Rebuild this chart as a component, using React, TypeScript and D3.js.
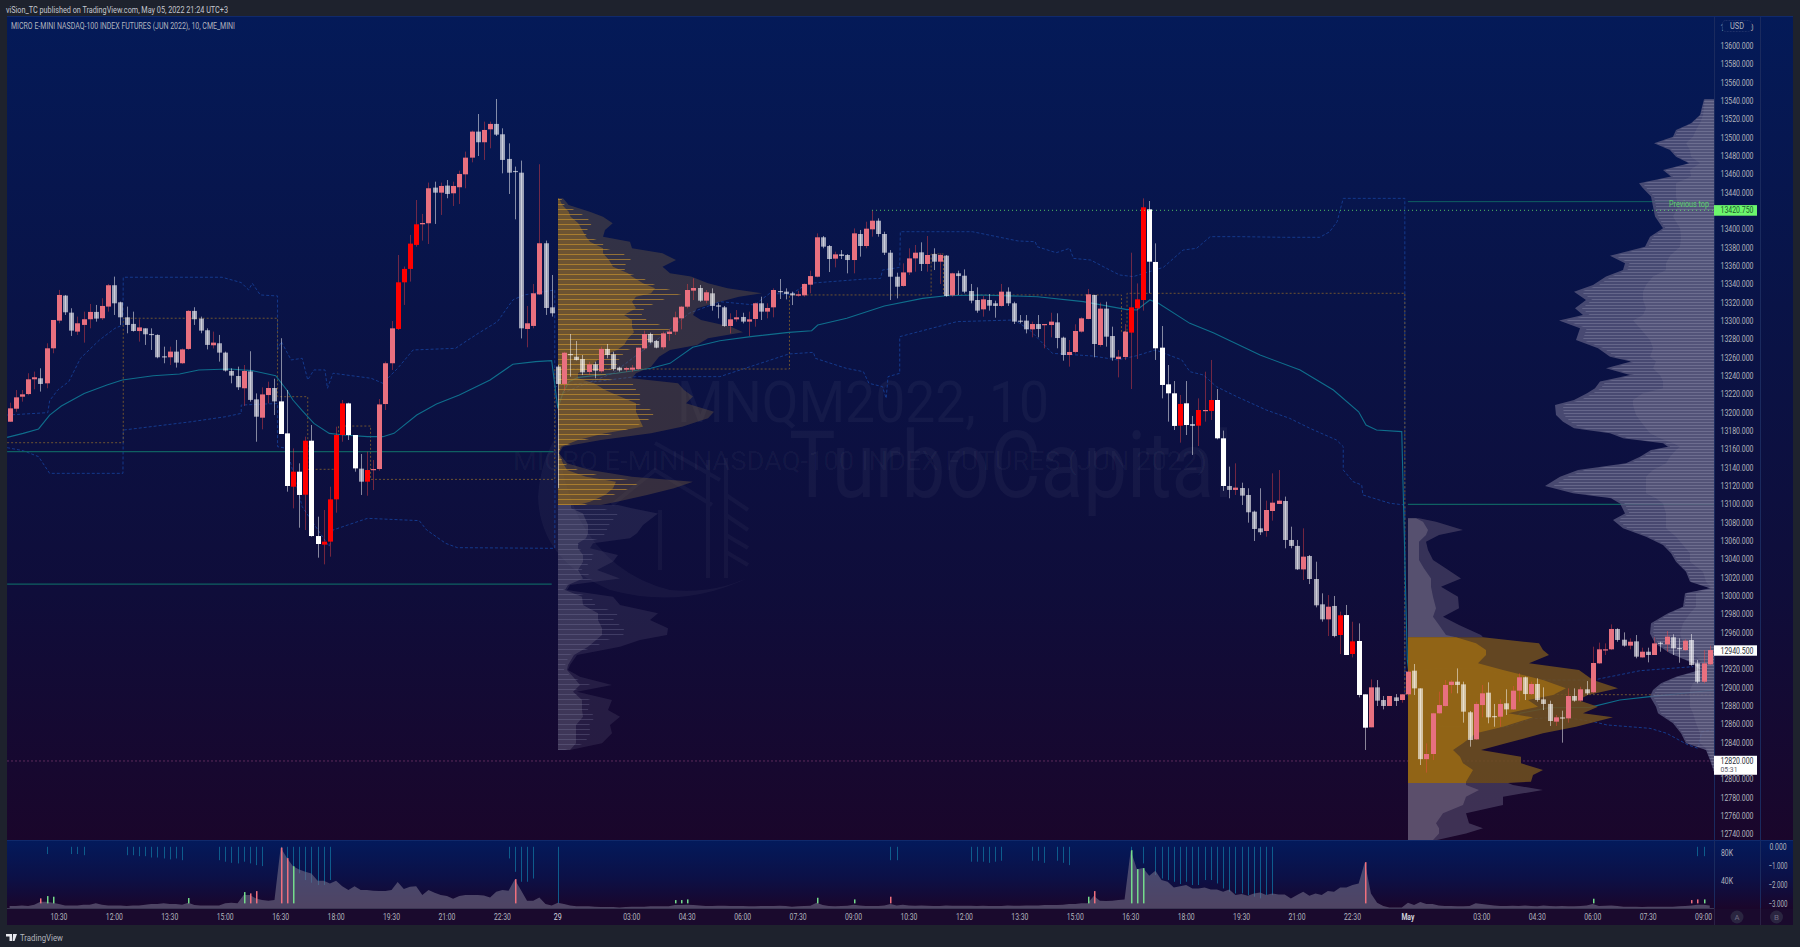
import React, { useEffect } from "react";
import * as d3 from "d3";

type N4 = [number, number, number, number];
type P2 = [number, number];
type P3 = [number, number, number];

// [open, high, low, close]
const candlesFirstDay: N4[] = [
[13190.1,13210.9,13190,13204.7],[13204.3,13224.7,13201,13216.7],[13217.4,13224.7,13212,13220],[13220.3,13243,13219,13236.4],[13236.4,13244.8,13225.5,13238.6],
[13237.5,13248.4,13223,13231.3],[13232,13275.7,13226.6,13270.2],[13270.2,13301.1,13264.8,13301.1],[13300.4,13333.9,13297.5,13328.4],[13327.7,13328.4,13306.6,13309.5],
[13309.1,13313.9,13283.7,13289.5],[13288.4,13304.8,13284.8,13297.5],[13295.7,13310.2,13276.4,13301.9],[13301.9,13318.6,13292,13309.9],[13309.9,13317.5,13299.3,13302.6],
[13303,13324.8,13301.1,13316.4],[13315.7,13340.4,13310.2,13339],[13339,13348.4,13306.6,13319.3],[13320.4,13321.1,13295.7,13304],[13304,13315.7,13286.6,13295.7],
[13296.8,13310.2,13288.4,13289.1],[13289,13301.9,13277.5,13293],[13292,13292,13273.9,13285.5],[13285.9,13292,13268.4,13285.2],[13284.8,13285.5,13259.3,13260.4],
[13261.5,13272,13253.9,13260.4],[13260.4,13272,13252,13266.6],[13266.6,13279.3,13249.2,13254.6],[13253.9,13270,13253,13269],[13269.5,13312,13268.4,13311],
[13311,13315,13295.7,13301.9],[13302.6,13304.8,13286.6,13289.5],[13289.9,13292,13269,13273.9],[13273.5,13288.4,13270,13276.4],[13275.7,13284.8,13255.7,13265.5],
[13265.5,13266.6,13244.8,13245.9],[13245.5,13248.4,13232,13240.4],[13240,13250.2,13224.8,13227.7],[13226.6,13252,13207.3,13245.5],[13245,13267,13212,13213.9],
[13214.5,13221,13168.3,13195.6],[13194.5,13227.6,13181.8,13219.9],[13219.2,13233.8,13210.1,13226.9],[13226.9,13237,13197.4,13212.3],[13212.3,13281.2,13176.7,13176.7],
[13177.4,13224.7,13113.8,13120],[13119.2,13161,13095.6,13135.6],[13135.6,13144.7,13074.5,13110.2],[13110.5,13173.8,13072,13169.4],[13169.4,13186.5,13064.7,13065.4],
[13065.4,13086.5,13041.8,13056.7],[13056,13093.8,13034.5,13059.3],[13059.3,13119.2,13042.9,13105.4],[13105.4,13184.7,13090.9,13175.6],[13175.6,13213.8,13168.3,13210.1],
[13210.1,13210.9,13170.2,13175.6],[13175.6,13175.6,13135.6,13139.2],[13138.9,13154.9,13110.2,13124.7],[13124.7,13157.4,13109.4,13137.4],[13137.4,13148.3,13115.6,13138.5],
[13138.5,13214.9,13136.7,13209],[13209.4,13255.7,13202.9,13253.9],[13253.9,13300,13246.6,13292],[13291.3,13372,13290.2,13342.2],[13342.2,13359.4,13317.5,13356.8],
[13356.8,13393.9,13343,13384.4],[13383,13432,13381.1,13405.5],[13405.5,13416.8,13387.7,13406.9],[13406.6,13451,13384,13444.8],[13445.5,13452,13405.9,13440],
[13440,13451,13415.7,13447.3],[13447.7,13453.8,13433.9,13438.6],[13439.3,13452,13425.5,13447.3],[13445.9,13464,13427.7,13460.4],[13460,13484.8,13444.8,13478.2],
[13478.2,13507.7,13473.1,13506.6],[13506.6,13525.8,13480,13495],[13495,13517.5,13475.7,13508.4],[13509.1,13517.5,13488.4,13515],[13515,13542.2,13501.8,13503.3],
[13503.7,13510.2,13461.1,13475.7],[13476.8,13493.8,13438.6,13461.8],[13463.7,13468.4,13410.9,13462.6],[13461.8,13475,13281,13292],[13291.3,13316.4,13271.3,13297.5],
[13294.6,13340.4,13292,13330.2],[13329,13471,13328.4,13384.8],[13384.8,13387.7,13306.6,13314.2],[13314.9,13350.2,13304.8,13308.4],
];
const candlesSecondDay: N4[] = [
[13250.2,13252,13117.5,13231.3],[13231.3,13266.5,13224,13265.4],[13264,13285.8,13239.3,13263],[13261,13278.2,13257,13257.4],[13258.5,13262.9,13241,13244],
[13244.4,13255.6,13241,13252.7],[13252.7,13255.6,13237.5,13245.8],[13245.1,13272,13243.6,13269.5],[13269.5,13274.9,13259.3,13262.9],[13263.6,13266.5,13245.8,13247.6],
[13249.1,13250.2,13244.7,13246.2],[13246.9,13250,13244.7,13248.7],[13246.9,13252,13244.7,13249.1],[13247.6,13270.9,13246.5,13270.9],[13270.2,13289.5,13268.4,13285.8],
[13285.8,13287.3,13275.6,13276.7],[13278.2,13279.3,13270.2,13270.9],[13271.3,13288.4,13269.1,13286.5],[13285.8,13290.9,13278.5,13288.4],[13288.4,13310.2,13284.7,13304],
[13302.9,13316.4,13290.9,13315.6],[13315.6,13340.4,13313.8,13333.8],[13333.1,13346.5,13322.9,13336],[13336,13339.3,13321,13322.2],[13322.2,13333.8,13319.3,13331.3],
[13330.2,13335.6,13311.3,13316.4],[13317.1,13319.3,13302.9,13315.6],[13314.9,13316.4,13293.8,13294.5],[13294.5,13308.4,13286.5,13301.8],[13301.8,13312,13299.3,13304],
[13304.4,13309,13297.4,13299.3],[13299.3,13310.2,13283.6,13301.8],[13302.2,13320,13293.8,13319.3],[13319.3,13326.5,13301.1,13310.2],[13310.2,13319.3,13302.9,13314.2],
[13314.9,13335.6,13304,13333.8],[13332.7,13345.8,13324,13332],[13332,13335.6,13323.6,13329.5],[13330.2,13332,13317.4,13328],[13327.6,13333,13326.5,13329.1],
[13328,13341,13326.5,13340.4],[13339.6,13354.9,13330.2,13349],[13348.3,13395.6,13347.6,13391.3],[13391.3,13392.7,13379.3,13381.1],[13381.8,13382.9,13353.4,13367.6],
[13368,13375.6,13358.5,13372.7],[13372.7,13377.4,13367.6,13370.9],[13372,13373,13352,13366.5],[13366.5,13401,13352,13395.6],[13394.9,13399.3,13370.2,13381.8],
[13381.8,13408.3,13379.3,13400.7],[13400,13420.3,13392,13409.4],[13409.4,13412,13392,13394.9],[13394.9,13397.4,13372,13374.5],[13374.5,13377.4,13322.9,13348.3],
[13348.3,13352.7,13324.7,13337.4],[13338.2,13362.9,13337.4,13353],[13353,13379.3,13350.2,13368.3],[13368.3,13382.9,13353.8,13374.5],[13374.9,13385.8,13354.5,13362.2],
[13362.2,13392.7,13353.8,13372],[13373,13379.3,13355.6,13364.7],[13364.7,13373.8,13340.4,13372],[13371.3,13372,13326.5,13327.3],[13328,13352.7,13326.5,13352],
[13352,13354.9,13328.4,13349],[13349.4,13356.3,13330.2,13332],[13332.7,13340.4,13319.3,13322.2],[13322.9,13336.7,13309,13311.3],[13312.7,13327.3,13304.7,13323.6],
[13322.9,13329.4,13311.3,13316.7],[13319.3,13322.2,13303.6,13316.4],[13316.4,13340.4,13315.6,13332],[13332,13336.7,13316.4,13319.3],[13319.3,13321,13296.7,13299.3],
[13300.4,13306.5,13297.4,13299.3],[13300.4,13306.5,13286.5,13290.9],[13290.9,13299.3,13282.2,13296.7],[13296.7,13306.5,13282.2,13291.3],[13295.6,13296.7,13270.2,13296.7],
[13295.6,13309,13282.2,13299.3],[13298.5,13308.4,13270.2,13281.4],[13281.8,13282.9,13256.7,13262.9],[13262.9,13279.3,13250.2,13266.2],[13266.2,13296.4,13264.7,13289.1],
[13288.4,13304,13287.3,13302.9],[13302.2,13334.9,13301.8,13329.1],[13328.4,13328.4,13260.4,13274.9],[13273.8,13320,13272,13313.5],[13313.5,13321,13272,13282.9],
[13283.6,13293.8,13256.7,13260],[13258.5,13268.4,13238.5,13261.1],[13260.7,13296.7,13257.4,13288.4],[13287.3,13374.5,13225.8,13314.9],[13313.8,13341,13258.5,13323.6],
[13322.9,13433.8,13311.3,13424],[13421.8,13430.9,13330.2,13364.7],[13364.4,13384.7,13257.5,13270.2],[13270.9,13294.5,13215.6,13230.2],[13230.9,13252,13190.2,13221.1],
[13221.1,13234.5,13181.1,13185.5],[13185.8,13219.3,13167.3,13209.5],[13210.2,13234.5,13175.6,13186.5],[13187.6,13196.4,13153.8,13185.5],[13185.8,13215.6,13163.6,13202.9],
[13202.2,13244.7,13190.2,13202.9],[13201.8,13257.5,13192,13213.8],[13213.8,13225.8,13170.9,13172],[13172,13180.4,13114.6,13120],[13120,13141.1,13106.6,13115.7],
[13115.7,13144.7,13110.2,13118.2],[13117.8,13123.6,13099.3,13109.5],[13110.2,13117.5,13080,13091.3],[13092,13093.1,13060,13073.1],[13073.8,13117.5,13066.6,13069.5],
[13070.9,13104,13064.7,13093.8],[13092.7,13133.8,13082.2,13101.8],[13100.4,13137.4,13100.4,13104],[13103.6,13108.4,13052,13061.1],[13061.1,13075.6,13052,13054.6],
[13054.6,13061.1,13028.4,13029.1],[13029,13073.8,13017.4,13042.9],[13043.6,13044.7,13013,13018.5],[13018.5,13037.4,12987.6,12989.8],[12990.9,13002.9,12972,12974.5],
[12974.5,13001,12956.3,12988.3],[12989.1,13000,12954.9,12956.3],[12957.4,12982.9,12936.7,12978.9],[12979.2,12990.2,12935.6,12935.6],[12936.7,12971.9,12933,12950.5],
[12950.9,12970.1,12889.4,12892],[12892.7,12892.7,12832,12856.3],[12856.7,12909,12856.7,12900.3],[12900.3,12908.3,12880,12885.8],[12886.5,12890.9,12876.3,12880],
[12880,12890.9,12880,12890.9],[12889.4,12893,12880,12885.4],[12886.5,12893,12883.6,12892.7],
];
const candlesThirdDay: N4[] = [
[12892.7,12918.5,12892,12917.4],[12918.5,12925.8,12892,12899.2],[12899.2,12899.2,12815.6,12822],[12822,12839.2,12807.3,12827.6],[12827.6,12872.7,12821,12872],
[12872,12895.6,12871.3,12881],[12880,12908.3,12879.3,12902.9],[12902.9,12908.3,12893.8,12906.5],[12906.5,12921,12893.8,12902.9],[12903.6,12906.5,12861.8,12873.8],
[12873.1,12874.5,12835.6,12842.9],[12843.6,12884.7,12842.9,12882.2],[12881,12902.9,12867.6,12893.8],[12894.5,12905.8,12861.1,12867.6],[12869,12882.2,12857.4,12868.3],
[12868.3,12887.3,12857.4,12882.2],[12882.9,12898.2,12870.2,12876.3],[12876.3,12901.8,12875.6,12896.7],[12896.7,12915.6,12884.7,12911.3],[12911.3,12912,12886.5,12893],
[12893,12906.5,12892,12904],[12904,12910.2,12884.7,12886.5],[12887.2,12900.3,12875.6,12882.2],[12882.2,12885.8,12858.2,12863.6],[12862.9,12870.2,12858.2,12867.6],
[12867.6,12874.9,12840,12866.2],[12866.5,12899.2,12861.8,12890.9],[12890.9,12899.2,12884.7,12885.8],[12885.8,12901,12884.7,12898.2],[12898.2,12907.2,12892,12893.8],
[12894.9,12944.7,12893.8,12926.9],[12926.5,12949.1,12925.8,12941.8],[12940.7,12948.3,12935.6,12941.8],[12941.8,12969,12941,12964],[12964,12964.7,12950.1,12952],
[12952.3,12960.3,12944.7,12945.8],[12945.8,12953.8,12941.8,12950.1],[12950.5,12957.4,12932,12933.8],[12933,12943.6,12932.7,12939.2],[12939.2,12943.6,12927.6,12935.6],
[12935.6,12954.9,12935.6,12948.3],[12949,12950.1,12939.2,12948.3],[12947.2,12961.8,12939.2,12955.6],[12954.9,12958.2,12935.6,12942.9],[12943.2,12953.8,12927.2,12942.5],
[12941,12952.7,12940.3,12951.2],[12952,12958.5,12924,12924.7],[12926.5,12930.2,12904.7,12906.5],[12906.5,12941,12904.7,12926.5],[12925.4,12945.8,12924.7,12941],
];
const redCandles = [46,48,51,52,53,54,58,63,64,65,66,182,183,184,190,193,195,216,218];
const whiteCandles = [44,45,47,49,50,55,56,185,186,187,188,189,191,196,197,217,219,220];

// volume in thousands, one per bar
const volumes = [
3.8,3.8,4.8,3.8,5.8,10,10,8.6,6.7,4.8, 4.8,4.8,5.8,5.8,7.7,5.8,4.8,4.8,4.8,3.8,
4.8,4.8,5.8,6.7,6.7,7.7,6.7,6.7,5.8,8.6, 5.3,4.8,4.8,4.8,4.8,7.7,8.6,7.7,19.7,19.7,
14.9,12.5,11.5,12.5,88.3,73.4,61.4,56.6,53.3,50.9, 40.3,40.3,36.5,40.3,32.6,26.9,32.6,26.9,26.9,25.9,
25.4,25.4,26.9,38.4,28.3,31.7,32.6,19.7,26.9,23, 19.7,18.2,14.4,18.2,19.7,19.7,19.7,19.2,16.3,24.5,
26.9,25.9,42.2,26.9,11.5,11.5,16.3,6.7,4.8,8.6, 6.7,4.8,3.4,3.4,3.4,2.9,2.4,2.4,2.4,1.9,
2.4,2.9,2.9,2.9,3.4,3.4,3.4,3.4,5.3,5.3, 5.8,5.3,4.8,3.8,3.8,4.3,4.3,3.8,3.8,3.8,
3.4,3.4,3.8,3.8,3.8,4.3,3.8,2.9,3.4,3.8, 4.3,8.6,5.3,3.8,3.4,3.8,4.3,5.8,4.8,3.8,
3.8,3.8,4.8,6.7,4.8,5.8,4.8,4.3,4.8,4.3, 3.8,3.8,4.8,4.3,4.3,4.3,4.3,3.8,4.3,3.8,
3.8,3.8,4.8,4.3,4.3,4.8,4.8,4.8,5.3,5.3, 5.3,5.8,6.7,6.7,7.7,7.7,18.2,11.5,11,11.5,
12.5,13.4,84.5,57.1,58.6,47.5,54.7,41.3,38.9,30.7, 32.6,34.1,29.3,29.3,30.7,27.8,27.8,24.5,27.8,19.7,
21.1,18.7,22.1,23.5,19.7,22.1,20.6,20.6,14.9,19.7, 24.5,18.7,22.1,19.7,25.4,24.5,30.7,30.7,34.1,36.5,
67.2,22.1,8.6,3.8,1.9,1.9,1.9,8.6,5.3,9.6, 6.7,6.7,4.8,3.8,3.8,3.4,3.4,3.8,7.7,6.7,
5.8,4.8,3.8,3.8,4.3,3.8,4.8,3.8,3.4,4.8, 3.8,3.4,3.8,3.4,3.4,3.8,4.8,6.7,3.8,4.3,
4.8,3.8,2.9,2.9,2.9,2.4,2.9,2.9,2.9,2.9, 2.9,3.4,3.8,4.8,5.8,5.8,4.8,
];
// [bar, value in thousands]
const greenSpikes: P2[] = [[6,18.2],[7,17.3],[29,15.4],[38,24],[46,61.4],[108,12.5],[109,12.5],[110,13.4],[131,15.8],[137,13.4],[175,17.3],[182,84.5],[183,57.1],[184,58.6],[257,14.4],[275,13.4]];
const redSpikes: P2[] = [[5,14.9],[39,22.1],[40,25.4],[44,88.3],[45,73],[82,42.7],[143,17.3],[176,25.4],[220,67.2],[273,12.5],[274,13.4]];
const spikeBaseK = 7.7;
// [bar, oscillator value], drawn hanging from zero
const hangingBars: P2[] = [
[6,-.38],[10,-.38],[11,-.38],[12,-.44],[19,-.44],[20,-.44],[21,-.49],[22,-.49],[23,-.56],[24,-.56],[25,-.61],[26,-.66],[27,-.61],[28,-.7],
[34,-.7],[35,-.78],[36,-.84],[37,-.87],[38,-.78],[39,-.87],[40,-.96],[41,-1.01],[44,-1],[45,-1.31],[46,-1.13],[47,-1.39],[48,-1.74],[49,-1.88],[50,-2],[51,-2],[52,-1.74],
[81,-.61],[82,-1.31],[83,-1.83],[84,-1.83],[85,-1.66],[89,-2.96],[143,-.7],[144,-.7],
[156,-.78],[157,-.78],[158,-.78],[159,-.84],[160,-.78],[161,-.73],[166,-.73],[167,-.73],[168,-.84],[170,-.73],[171,-.84],[172,-.96],
[182,-.17],[184,-.87],[186,-1.48],[187,-1.66],[188,-1.74],[189,-1.83],[190,-1.95],[191,-1.83],[192,-2],[193,-2],[194,-1.74],[195,-1.74],[196,-1.92],[197,-2.18],[198,-2.35],[199,-2.44],[200,-2.44],[201,-2.53],[202,-2.61],[203,-2.7],[204,-2.53],[205,-2.53],
[274,-.49],[275,-.49],
];

// [bar, price] lines
const vwapLine: P2[] = [[-.4,13173],[2.2,13177.4],[4.7,13182.2],[6.5,13197.4],[8.4,13207.2],[12.1,13221],[15.8,13230.1],[18.3,13235.6],[23.3,13240.3],[27.6,13242.1],[30.7,13246.5],[35.7,13247.6],[39.4,13245.8],[43.2,13240.3],[45,13224.7],[46,13213.8],[47.5,13202.1],[49.4,13188.3],[51.9,13177.4],[54.3,13175.6],[58.1,13173.8],[60.6,13173.8],[62.4,13177.4],[66.1,13197.4],[69.3,13209.4],[73,13219.2],[78,13235.6],[81.7,13252.8],[85.4,13255.7],[88,13256.8],
[89,13204.7],[89.8,13221.1],[90.8,13233.8],[92.3,13238.5],[98.5,13242.9],[104.1,13248.4],[107.2,13253.8],[110.9,13271.3],[115.3,13278.5],[120.3,13282.9],[126.5,13287.6],[130.2,13289.4],[131.2,13295.6],[135.9,13302.9],[142,13316.4],[148.2,13324.7],[152,13327.6],[157.6,13328.4],[166.9,13326.5],[174.3,13321.1],[181.2,13312.7],[183,13312],[185.1,13322.9],[186.5,13319.3],[191.6,13297.4],[195.4,13287.3],[203,13262.9],[209.5,13246.5],[214.9,13224.7],[219,13201],[220.2,13186.5],[221.9,13181.1],[226,13179.3],
[226.9,12930],[227.3,12908.3],[229,12879.3],[232.2,12857.4],[243,12858.2],[245.2,12872],[250,12878.2],[256.5,12878.5],[261.4,12886.5],[266.3,12890.2],[271.7,12893.8],[276.6,12897.4]];
const upperBand: P2[] = [[-.4,13197.4],[6.2,13200],[6.5,13213],[7.8,13224.7],[9.6,13233.8],[11.5,13259.3],[14.6,13279.3],[17.1,13292],[18.4,13295.7],[18.45,13347.7],[34.5,13347.7],[37.6,13341.9],[38.8,13333.9],[39.4,13341.1],[40.7,13328.4],[43.5,13327.3],[43.5,13268.4],[44.1,13277.5],[45.7,13257.5],[47.5,13259.3],[48.4,13235.7],[49.4,13246.6],[51.2,13246.6],[51.6,13226.6],[52.5,13243],[58.7,13237.5],[60.6,13232],[63,13248.4],[65.5,13268.4],[72.4,13270.2],[73.6,13275.7],[76.1,13286.6],[79.2,13299.3],[81.7,13323],[83.5,13328.4],[88.5,13333.9],
[88.5,13217.5],[92.3,13228.4],[97.9,13242.9],[104.7,13277.5],[110.3,13308.4],[115.3,13321.1],[120.9,13317.5],[123.4,13330.2],[126.8,13329],[129.6,13341],[138.9,13345.8],[141.4,13346.5],[141.7,13355.6],[144.5,13358.5],[144.6,13397.4],[156.3,13397.4],[163.7,13387.3],[166.5,13386.5],[166.8,13381.1],[169.9,13374.5],[172.1,13379.3],[172.7,13368.3],[175.5,13366.5],[178.6,13355.6],[180.2,13350.2],[182.4,13348.4],[187.3,13358.5],[190.5,13377.4],[192.7,13379.3],[194.9,13392],[199.7,13392],[206.8,13391.3],[212.7,13391.3],[214.3,13397.4],[215.5,13408.3],[216.5,13433.8],[226.5,13433.8],
[226.5,12917.4],[232,12921],[239.3,12921],[243,12912],[249.5,12908.3],[257.1,12908.3],[264.7,12918.5],[273.3,12922.9]];
const lowerBand: P2[] = [[-.4,13161.8],[2.2,13158.5],[4.7,13152],[6.5,13133.8],[18.4,13133.8],[18.45,13181],[29.5,13190.1],[35.1,13195.6],[37.6,13199.2],[37.6,13208.3],[43.5,13210],[43.5,13162.9],[45,13161],[47.5,13097.4],[51.9,13053.8],[52.5,13072],[58.1,13084.7],[66.5,13082.2],[67.7,13072],[70.8,13057.4],[72.7,13052.7],[88.5,13052],
[88.6,13228.4],[101.6,13239.3],[115.3,13239.3],[126.5,13264],[130.5,13265.8],[130.8,13259.3],[135.8,13248.4],[138.6,13244.7],[139.5,13232],[141.7,13228.4],[142.3,13215.6],[142.6,13239.3],[144.5,13242.9],[144.5,13282.9],[153.8,13299.3],[163.1,13301.1],[165.6,13290.2],[169.3,13264.7],[175.8,13261.8],[179.9,13257.5],[183,13262.2],[186,13268.4],[190.3,13257.5],[191.6,13244.7],[193.8,13241.1],[195.9,13228.4],[199.2,13217.5],[204,13202.9],[207.8,13193.8],[211.1,13182.9],[215.4,13170.2],[216.5,13162.9],[216.5,13137.5],[218.1,13124.7],[219.5,13121.1],[219.7,13110.2],[224.1,13101.1],[226.5,13099.3],
[226.5,12893.8],[232.8,12857.4],[243,12857],[247,12866],[252,12868],[257.1,12862.9],[259.3,12859.3],[266.3,12855.6],[269,12850.2],[272.5,12837.4],[274.1,12833.8],[274.7,12852],[276.6,12853.8]];
const pocLine: P2[] = [[-.4,13167.2],[18.45,13167.2],[18.45,13303],[43.5,13303],[43.5,13217.4],[48.4,13217.4],[48.4,13138.2],[53.4,13138.2],[53.4,13185.4],[58.6,13185.4],[58.6,13127.2],[88.5,13127.2],
[88.5,13247.6],[126.6,13247.6],[126.6,13328.4],[149.6,13328.4],[149.6,13373.1],[151.6,13373.1],[151.6,13328.4],[180.5,13328.4],[180.5,13288.4],[181.4,13288.4],[181.4,13330.2],[226.5,13330.2],[226.5,12893],[276.6,12892]];
// [from bar, to bar, price]
const tealLevels: P3[] = [[-.4,88.3,13157.4],[-.4,88,13013],[227,277,13100],[227,277,13430.2]];
const previousTop = 13420.75;
const previousTopBar = 140;
const lastPrice = 12940.5;
const countdownPrice = 12820;

// [price, total width, inner width]
const profile1Orange: P3[] = [[13433.8,5,1],[13426.5,10.7,4.2],[13419.3,31.8,10.7],[13413.8,45,12.6],[13406.5,54.7,20.3],[13399.3,47,24.1],[13392,45,28],[13386.5,72,32],[13379.3,74,45],[13373.8,104.5,45],[13366.5,118,51],[13359.3,104.5,55],[13352,112,70],[13348.4,133,74],[13341.1,150,85],[13335.6,169.5,97],[13330.2,204,93],[13326.5,181,78],[13321,162,74],[13313.8,139,78],[13306.5,135,66],[13301.1,143,74],[13293.8,173,74],[13287.6,185,76],[13281.1,150,70],[13273.8,139,66],[13268.4,112,59],[13261.1,101,43],[13250.2,93,32],[13242.9,78,20],[13237.5,74,20],[13232,120,36],[13224.7,126,47],[13217.5,135,62],[13210.2,128,78],[13201.1,156,78],[13193.8,150,81],[13184.7,124,85],[13177.4,93,47],[13170.2,43,20],[13162.9,5,3],[13155.6,1,.5],[13144.7,9,5],[13137.5,32,9],[13130.2,74,28],[13124.7,135,58],[13117.5,116,55],[13110.2,89,47],[13102.9,59,32],[13099.3,43,20]];
const profile1Gray: P3[] = [[13099.3,60,13],[13095.7,74,13],[13090.1,100,25],[13077.4,85,30],[13068.3,79,30],[13062.9,72,28],[13057.4,35,20],[13052,32,20],[13044.7,60,25],[13037.4,55,25],[13028.3,39,20],[13019.2,62,25],[13012,12,10],[13006.5,9,7],[12999.2,55,24],[12990.1,62,25],[12981.1,100,40],[12973.8,92,40],[12964.7,110,44],[12957.4,109,44],[12952,82,38],[12944.7,62,30],[12935.6,19,16],[12924.7,12,10],[12919.2,10,9],[12912,22,15],[12902.9,54,22],[12895.6,19,15],[12886.5,54,24],[12875.6,50,24],[12868.3,62,25],[12859.3,52,18],[12850.2,54,18],[12839.2,44,18],[12832,12,12]];
const profile2Top: P3[] = [[13084.7,11,8],[13081,28,15],[13072,55,20],[13066.5,31,18],[13059.2,18,11],[13050.1,20,11],[13039.2,25,11],[13030.1,38,16],[13019.2,53,23],[13010.1,33,23],[12999.2,50,25],[12986.5,51,28],[12977.4,35,25],[12968.3,51,31],[12957.4,73,38],[12955,75,48]];
const profile2Orange: P3[] = [[12955,75,48],[12948.3,131,68],[12941,135,78],[12935.6,141,78],[12926.5,121,70],[12919.2,171,95],[12908.3,185,135],[12899.2,210,158],[12891.9,180,145],[12886.5,170,120],[12879.2,190,130],[12872,175,100],[12867.6,205,125],[12857.4,168,95],[12850.2,135,68],[12839.3,98,55],[12832,73,45],[12824.7,113,52],[12817.4,113,55],[12810.2,135,65],[12804.7,125,62],[12797.4,123,58],[12796,100,58]];
const profile2Bottom: P3[] = [[12796,100,58],[12793.8,105,58],[12788.4,135,71],[12781,95,58],[12772,95,55],[12762.9,58,35],[12752,61,28],[12746.5,75,31],[12741,58,31],[12733.8,29,25]];
const profile3: P3[] = [[13541.8,10,9],[13524.8,14,11],[13515.7,23,14],[13508.4,38,18],[13501.1,41,21],[13493.8,60,28],[13486.6,44,24],[13479.3,38,23],[13472,25,14],[13464.8,51,24],[13457.5,43,23],[13450.2,75,38],[13444.8,71,38],[13435.7,63,38],[13424.8,61,36],[13413.9,59,41],[13401.1,51,34],[13392,64,33],[13381.1,69,34],[13371.3,104,44],[13363,89,48],[13355.7,91,48],[13348.4,108,61],[13339.3,121,68],[13332,140,71],[13323,128,71],[13313.9,139,68],[13306.6,131,71],[13300.4,155,81],[13292,134,74],[13279.3,138,64],[13270.2,116,61],[13261.1,104,64],[13255.7,83,58],[13248.4,108,61],[13241.1,84,54],[13233.9,114,51],[13226.6,119,51],[13221.1,127,71],[13213.9,140,81],[13208.4,159,81],[13197.5,158,78],[13190.2,151,73],[13182.9,140,68],[13177.5,104,64],[13172,91,54],[13166.6,51,41],[13162.9,46,34],[13159.3,63,38],[13152,74,44],[13144.8,88,48],[13137.5,136,61],[13130.2,154,68],[13120.1,169,68],[13112.1,141,68],[13106.6,103,58],[13101,94,51],[13090.1,89,48],[13082.9,101,48],[13073.8,91,48],[13064.7,68,38],[13055.6,51,31],[13046.5,43,24],[13037.4,38,24],[13026.5,28,11],[13015.6,24,8],[13008.3,4,2],[13002.9,29,18],[12988.3,31,18],[12981.1,46,24],[12970.2,63,31],[12959.2,64,34],[12948.3,59,31],[12937.4,44,21],[12926.5,21,11],[12919.2,14,6],[12912,38,14],[12904.7,53,21],[12897.4,61,24],[12890.2,64,24],[12879.2,58,24],[12872,56,21],[12861.1,41,18],[12850.2,33,14],[12839.3,28,14],[12832,8,6],[12821,4,2],[12808.3,0,0]];

const priceTicks = d3.range(13620, 12739, -20);
const volumeTicks = [40, 80];
const oscTicks = [0, -1, -2, -3];
const timeTickBars = [8,17,26,35,44,53,62,71,80,89,101,110,119,128,137,146,155,164,173,182,191,200,209,218,227,239,248,257,266,275];
const timeTickLabels = ["10:30","12:00","13:30","15:00","16:30","18:00","19:30","21:00","22:30","29","03:00","04:30","06:00","07:30","09:00","10:30","12:00","13:30","15:00","16:30","18:00","19:30","21:00","22:30","May","03:00","04:30","06:00","07:30","09:00"];

const headerText = "viSion_TC published on TradingView.com, May 05, 2022 21:24 UTC+3";
const titleText = "MICRO E-MINI NASDAQ-100 INDEX FUTURES (JUN 2022), 10, CME_MINI";

const candles: N4[] = [...candlesFirstDay, ...candlesSecondDay, ...candlesThirdDay];

const W = 1800, H = 947;
const PL = 7, PR = 1714, PT = 16, PB = 840, SB = 908, TB = 925, AX2 = 1760, RE = 1793;
const F = "Roboto, 'Liberation Sans', sans-serif";

const xs = d3.scaleLinear().domain([0, 276]).range([9.6, 9.6 + 276 * 6.16]);
const ys = d3.scaleLinear().domain([13600, 12740]).range([46, 834.3]);
const volY = d3.scaleLinear().domain([0, 80]).range([908.7, 853.3]);
const oscY = d3.scaleLinear().domain([0, -3]).range([846.8, 904.1]);

const pathLine = d3.line<P2>().x((d) => xs(d[0])).y((d) => ys(d[1]));
const volArea = d3.area<number>().x((_, i) => xs(i)).y0(volY(0)).y1((d) => volY(d));

function profilePath(rows: P3[], anchor: number, dir: number, which: number, scale = 1) {
  return d3.area<P3>()
    .y((d) => ys(d[0]))
    .x0(anchor)
    .x1((d) => anchor + dir * d[which] * scale)(rows) as string;
}

function Profile({ rows, anchor, dir, outer, inner, stripe, reach = 0.8 }: { rows: P3[]; anchor: number; dir: number; outer: string; inner: string; stripe?: string; reach?: number }) {
  return (
    <g>
      <path d={profilePath(rows, anchor, dir, 1)} fill={outer} />
      <path d={profilePath(rows, anchor, dir, 2)} fill={inner} />
      {stripe ? <path d={profilePath(rows, anchor, dir, 1, reach)} fill={`url(#${stripe})`} /> : null}
    </g>
  );
}

const Stripe = ({ id, color, h = 8 }: { id: string; color: string; h?: number }) => (
  <pattern id={id} patternUnits="userSpaceOnUse" width={8} height={h}>
    <rect x={0} y={h - 1} width={8} height={1} fill={color} />
  </pattern>
);

function Candle({ d, i }: { d: N4; i: number }) {
  const [o, h, l, c] = d;
  const up = c >= o;
  const isRed = redCandles.includes(i);
  const isWhite = whiteCandles.includes(i);
  const x = Math.round(xs(i));
  const body = isRed ? "#ff0000" : isWhite ? "#ffffff" : up ? "#e8707f" : "rgba(255,255,255,0.6)";
  const wick = up ? "rgba(255,70,70,0.42)" : "rgba(255,255,255,0.5)";
  const top = ys(Math.max(o, c));
  const bot = ys(Math.min(o, c));
  return (
    <g>
      <rect x={x} y={ys(h)} width={1} height={Math.max(0, ys(l) - ys(h))} fill={wick} />
      <rect x={x - 2} y={top} width={5} height={Math.max(1.2, bot - top)} fill={body} />
    </g>
  );
}

const Fit = ({ x, y, w, size = 9, fill = "#b2b5be", anchor = "middle", children, weight }: any) => (
  <text x={x} y={y} fontSize={size} fontFamily={F} fill={fill} textAnchor={anchor} textLength={w} lengthAdjust="spacingAndGlyphs" dominantBaseline="central" fontWeight={weight}>
    {children}
  </text>
);

export default function App() {
  useEffect(() => {
    document.body.style.margin = "0";
    document.body.style.overflow = "hidden";
  }, []);
  const tagX = PR, tagW = 43;
  return (
    <svg width={W} height={H} viewBox={`0 0 ${W} ${H}`} style={{ position: "absolute", left: 0, top: 0, display: "block" }}>
      <defs>
        <linearGradient id="mainBg" x1="0" y1="0" x2="0" y2="1">
          <stop offset="0" stopColor="#041a58" />
          <stop offset="0.35" stopColor="#091347" />
          <stop offset="0.7" stopColor="#0f0d3a" />
          <stop offset="1" stopColor="#1a062b" />
        </linearGradient>
        <linearGradient id="subBg" x1="0" y1="0" x2="0" y2="1">
          <stop offset="0" stopColor="#031a5c" />
          <stop offset="0.45" stopColor="#0c1046" />
          <stop offset="0.8" stopColor="#1a062b" />
          <stop offset="1" stopColor="#1a062b" />
        </linearGradient>
        <clipPath id="mainClip"><rect x={PL} y={PT} width={PR - PL} height={PB - PT} /></clipPath>
        <clipPath id="subClip"><rect x={PL} y={PB} width={PR - PL} height={SB - PB + 1} /></clipPath>
        <Stripe id="stOrange" color="rgba(205,150,45,0.62)" h={5} />
        <Stripe id="stGray" color="rgba(130,130,165,0.3)" h={5} />
        <Stripe id="stGray2" color="rgba(175,175,200,0.28)" h={3} />
      </defs>
      <rect width={W} height={H} fill="#1e222d" />
      <rect x={PL} y={PT} width={RE - PL} height={PB - PT} fill="url(#mainBg)" />
      <rect x={PL} y={PB} width={RE - PL} height={TB - PB} fill="url(#subBg)" />

      {/* watermark */}
      <g fill="#ffffff" fillOpacity={0.04} fontFamily={F}>
        <text x={863} y={422} fontSize={58} textAnchor="middle" textLength={372} lengthAdjust="spacingAndGlyphs">MNQM2022, 10</text>
        <text x={860} y={470} fontSize={26} textAnchor="middle" textLength={694} lengthAdjust="spacingAndGlyphs">MICRO E-MINI NASDAQ-100 INDEX FUTURES (JUN 2022)</text>
        <text x={1011} y={497} fontSize={92} textAnchor="middle" textLength={444} lengthAdjust="spacingAndGlyphs">TurboCapital</text>
        <path d="M763,570 Q690,612 610,590 Q540,560 538,497 Q540,460 560,430 Q556,470 580,520 Q610,575 670,590 Q720,595 763,570 Z" />
      </g>
      <g stroke="#ffffff" strokeOpacity={0.035} strokeWidth={4} fill="none">
        <path d="M655,443 L720,480 M612,505 L655,470 L712,505 M660,510 V570 M708,460 V578 M726,458 V578 M726,495 L748,510 M726,515 L748,530 M726,535 L748,548 M726,552 L748,565" />
      </g>

      {/* overlays, beneath the profiles */}
      <g clipPath="url(#mainClip)" fill="none">
        <path d={pathLine(lowerBand) as string} stroke="#14398c" strokeWidth={1} strokeDasharray="3 2" />
        <path d={pathLine(upperBand) as string} stroke="#14398c" strokeWidth={1} strokeDasharray="3 2" />
        <path d={pathLine(pocLine) as string} stroke="#6d5331" strokeWidth={1} strokeDasharray="2 2" />
        {tealLevels.map((l, i) => (
          <line key={i} x1={xs(l[0])} x2={xs(l[1])} y1={ys(l[2])} y2={ys(l[2])} stroke="#0f6062" strokeWidth={i === 3 ? 1 : 1.3} />
        ))}
        <path d={pathLine(vwapLine) as string} stroke="#0f6e8c" strokeWidth={1.1} />
        <line x1={PL} x2={PR} y1={ys(countdownPrice)} y2={ys(countdownPrice)} stroke="#5d2c5c" strokeWidth={1} strokeDasharray="2 2" />
      </g>

      {/* profiles */}
      <g clipPath="url(#mainClip)">
        <Profile rows={profile1Orange} anchor={558} dir={1} outer="rgba(120,98,62,0.38)" inner="rgba(150,108,36,0.58)" stripe="stOrange" reach={0.62} />
        <Profile rows={profile1Gray} anchor={558} dir={1} outer="rgba(110,105,135,0.2)" inner="rgba(120,115,140,0.3)" stripe="stGray" reach={0.6} />
        <Profile rows={profile2Top} anchor={1408} dir={1} outer="rgba(70,65,100,0.72)" inner="rgba(92,86,115,0.85)" />
        <Profile rows={profile2Orange} anchor={1408} dir={1} outer="rgba(110,78,32,0.88)" inner="rgba(148,102,22,0.95)" />
        <Profile rows={profile2Bottom} anchor={1408} dir={1} outer="rgba(76,66,100,0.72)" inner="rgba(96,84,112,0.85)" />
        <Profile rows={profile3} anchor={PR} dir={-1} outer="rgba(88,88,125,0.8)" inner="rgba(110,110,140,0.28)" stripe="stGray2" reach={0.95} />
      </g>

      {/* candles */}
      <g clipPath="url(#mainClip)">
        {candles.map((d, i) => <Candle key={i} d={d} i={i} />)}
        <line x1={xs(previousTopBar)} x2={PR} y1={ys(previousTop)} y2={ys(previousTop)} stroke="#6cf76c" strokeOpacity={0.75} strokeWidth={1} strokeDasharray="1 3" />
      </g>
      <Fit x={1689} y={204} w={40} size={8.5} fill="#58d46a">Previous top</Fit>

      {/* sub pane */}
      <g clipPath="url(#subClip)">
        {hangingBars.map((d, i) => (
          <rect key={i} x={Math.round(xs(d[0]))} y={oscY(0)} width={1} height={oscY(d[1]) - oscY(0)} fill="#0e5c8c" />
        ))}
        <path d={volArea(volumes) as string} fill="#6f6a86" fillOpacity={0.62} />
        <rect x={PL} y={SB} width={PR - PL} height={1.5} fill="#3c3754" />
        {redSpikes.map((d, i) => (
          <rect key={i} x={Math.round(xs(d[0]))} y={volY(d[1])} width={1.5} height={volY(spikeBaseK) - volY(d[1])} fill="#f0707e" />
        ))}
        {greenSpikes.map((d, i) => (
          <rect key={i} x={Math.round(xs(d[0]))} y={volY(d[1])} width={1.5} height={volY(spikeBaseK) - volY(d[1])} fill="#74dc8c" />
        ))}
      </g>

      {/* frames */}
      <g stroke="#1a2a5e" strokeWidth={1} fill="none">
        <line x1={PR + 0.5} x2={PR + 0.5} y1={PT} y2={TB} />
        <line x1={AX2 + 0.5} x2={AX2 + 0.5} y1={PT} y2={TB} />
        <line x1={PL} x2={RE} y1={PB + 0.5} y2={PB + 0.5} stroke="#10296b" />
        <line x1={PL} x2={RE} y1={PT + 0.5} y2={PT + 0.5} stroke="#10296b" />
      </g>
      <rect x={PL} y={SB + 1} width={RE - PL} height={TB - SB - 1} fill="#1a0a2d" />
      <line x1={PR + 0.5} x2={PR + 0.5} y1={SB} y2={TB} stroke="#2a2145" />
      <line x1={AX2 + 0.5} x2={AX2 + 0.5} y1={SB} y2={TB} stroke="#2a2145" />

      {/* price axis */}
      {priceTicks.map((t) => (
        <Fit key={t} x={1737} y={ys(t)} w={33}>{d3.format(".3f")(t)}</Fit>
      ))}
      <rect x={1722.5} y={20.5} width={29} height={11} rx={3} fill="#041a58" stroke="#1d2f68" strokeDasharray="2 1" />
      <Fit x={1737} y={26} w={14}>USD</Fit>

      {/* tags */}
      <rect x={tagX} y={ys(previousTop) - 5.2} width={tagW} height={10.6} fill="#6cf76c" />
      <Fit x={1737} y={ys(previousTop)} w={33} fill="#1b5a2c">{d3.format(".3f")(previousTop)}</Fit>
      <rect x={tagX} y={ys(lastPrice) - 5.2} width={tagW} height={10.4} fill="#ffffff" />
      <Fit x={1737} y={ys(lastPrice)} w={33} fill="#2a2e39">{d3.format(".3f")(lastPrice)}</Fit>
      <rect x={tagX} y={ys(countdownPrice) - 5.2} width={tagW} height={19} fill="#ffffff" />
      <Fit x={1737} y={ys(countdownPrice)} w={33} fill="#2a2e39">{d3.format(".3f")(countdownPrice)}</Fit>
      <Fit x={1729} y={ys(countdownPrice) + 9} w={17} size={8} fill="#5d606b">05:31</Fit>

      {/* sub axes */}
      {volumeTicks.map((t) => (
        <Fit key={t} x={1727} y={volY(t)} w={12}>{`${t}K`}</Fit>
      ))}
      {oscTicks.map((t) => (
        <Fit key={t} x={1778} y={oscY(t)} w={t === 0 ? 17 : 19}>{d3.format(".3f")(t)}</Fit>
      ))}

      {/* time axis */}
      {timeTickBars.map((b, i) => {
        const lab = timeTickLabels[i];
        const bold = lab === "May" || lab === "29";
        return (
          <Fit key={i} x={xs(b)} y={917} w={lab === "May" ? 13 : lab === "29" ? 8 : 17} weight={lab === "May" ? 700 : 400} fill={bold ? "#d1d4dc" : "#b2b5be"}>{lab}</Fit>
        );
      })}
      <circle cx={1737} cy={917} r={6.5} fill="#2a2540" />
      <Fit x={1737} y={917} w={5} size={8} fill="#6e6a82">A</Fit>
      <circle cx={1776.5} cy={917} r={6.5} fill="#2a2540" />
      <Fit x={1776.5} y={917} w={5} size={8} fill="#6e6a82">B</Fit>

      {/* header, title, footer */}
      <Fit x={6} y={9.5} w={222} size={8.5} anchor="start" fill="#c5c8d0">{headerText}</Fit>
      <Fit x={11} y={26} w={224} size={8.5} anchor="start" fill="#b2b5be">{titleText}</Fit>
      <path d="M6,934 H12 V941 H9.5 V936.5 H6 Z M13,934 H17 L14.5,941 H12.6 Z" fill="#e8e9ee" />
      <Fit x={20} y={937.5} w={43} size={9} anchor="start" fill="#b2b5be">TradingView</Fit>
    </svg>
  );
}
